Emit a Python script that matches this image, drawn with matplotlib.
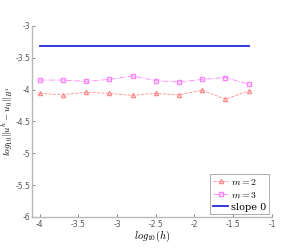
import matplotlib
matplotlib.use('Agg')
import matplotlib.pyplot as plt
import numpy as np

# log10(h) values
log_h = [-4.0, -3.7, -3.4, -3.1, -2.8, -2.5, -2.2, -1.9, -1.6, -1.3]
# log10 of H1 error
err_m2 = [-4.06, -4.08, -4.04, -4.06, -4.09, -4.06, -4.08, -4.01, -4.15, -4.02]
err_m3 = [-3.85, -3.85, -3.87, -3.84, -3.785, -3.86, -3.88, -3.84, -3.81, -3.915]
slope0 = [-3.31, -3.31]
slope_x = [-4.0, -1.3]

xticks = [-4, -3.5, -3, -2.5, -2, -1.5, -1]
yticks = [-6, -5.5, -5, -4.5, -4, -3.5, -3]

plt.rcParams['mathtext.fontset'] = 'cm'

fig = plt.figure(figsize=(2.93, 2.52), dpi=100)
ax = fig.add_axes([0.109, 0.139, 0.819, 0.758])

ax.plot(log_h, err_m2, linestyle='--', color=(1, 0.55, 0.55), marker='^',
        markerfacecolor='none', markersize=3, linewidth=0.6, label='$m=2$')
ax.plot(log_h, err_m3, linestyle='-.', color=(1, 0.5, 1), marker='s',
        markerfacecolor='none', markersize=2.2, linewidth=0.6, label='$m=3$')
ax.plot(slope_x, slope0, linestyle='-', color=(0.15, 0.15, 0.85), linewidth=1.3,
        label='slope 0')

ax.set_xlim(-4.1, -1)
ax.set_ylim(-6, -3)
ax.set_xticks(xticks)
ax.set_yticks(yticks)
ax.set_xticklabels(['%g' % t for t in xticks])
ax.set_yticklabels(['%g' % t for t in yticks])
ax.tick_params(direction='in', length=2, width=0.5, labelsize=5.5,
               colors='#555555', pad=2)
ax.tick_params(axis='y', pad=1.2)

for s in ['top', 'right']:
    ax.spines[s].set_visible(False)
for s in ['left', 'bottom']:
    ax.spines[s].set_color('#b8b8b8')
    ax.spines[s].set_linewidth(1.0)

ax.set_xlabel(r'$log_{10}(h)$', fontsize=7.5, labelpad=0)
ax.set_ylabel(r'$log_{10}\|u^h-u_0\|_{H^1}$', fontsize=6.8)
ax.yaxis.set_label_coords(-0.07, 0.5)

leg = ax.legend(loc='lower right', frameon=True, fancybox=False,
                handlelength=1.6, handletextpad=0.3, borderpad=0.25,
                labelspacing=0.3, borderaxespad=0.3,
                prop={'family': 'serif', 'size': 7})
leg.get_frame().set_edgecolor('#888888')
leg.get_frame().set_linewidth(0.6)

fig.savefig('out.png', dpi=100)
